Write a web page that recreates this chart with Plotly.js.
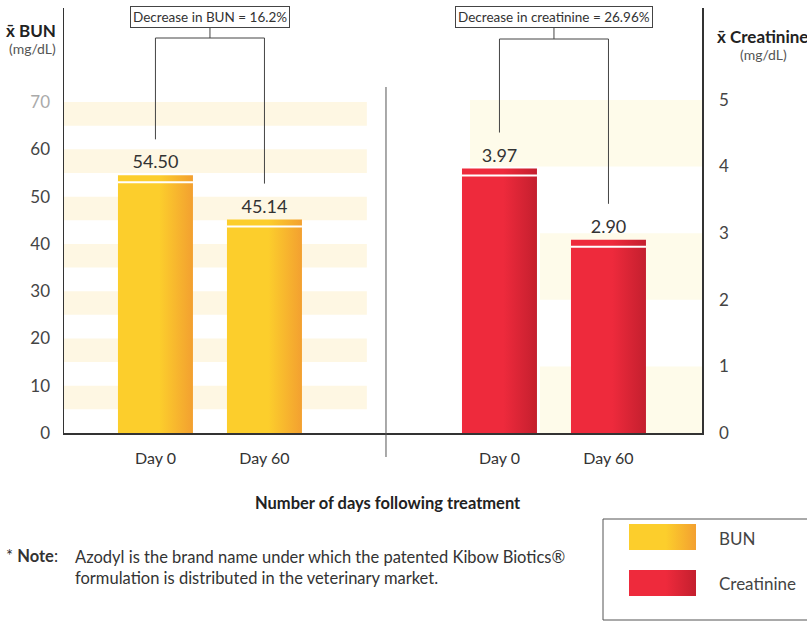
<!DOCTYPE html>
<html>
<head>
<meta charset="utf-8">
<script src="https://cdn.plot.ly/plotly-3.0.1.min.js"></script>
<style>
  html, body { margin: 0; padding: 0; background: #ffffff; }
  #chart { width: 807px; height: 623px; }
</style>
</head>
<body>
<div id="chart"></div>
<script>
// ---------------- data ----------------
const categories = ["Day 0", "Day 60"];
const bunValues = [54.50, 45.14];
const creatinineValues = [3.97, 2.90];
const bunLabels = ["54.50", "45.14"];
const creatinineLabels = ["3.97", "2.90"];
const bunTicks = [0, 10, 20, 30, 40, 50, 60, 70];
const creatinineTicks = [0, 1, 2, 3, 4, 5];
const seriesNames = ["BUN", "Creatinine"];
const bracketTexts = ["Decrease in BUN = 16.2%", "Decrease in creatinine = 26.96%"];
const xAxisTitle = "Number of days following treatment";
const noteLines = ["Azodyl is the brand name under which the patented Kibow Biotics®",
                   "formulation is distributed in the veterinary market."];

// ---------------- styles ----------------
const FONT = "Lato, 'Open Sans', sans-serif";
const bunColor = "#f9bd2b";
const creColor = "#e52535";
const axisColor = "#333333";
const bunRange = [0, 89.9];
const creRange = [0, 6.38];
const plotH = 425; // px
const bunPx = plotH / (bunRange[1] - bunRange[0]);
const crePx = plotH / (creRange[1] - creRange[0]);
const splitX = 0.5047;
const barWidth = 0.688;
const py = p => (433 - p) / plotH; // pixel row -> paper y
const px = p => (p - 64) / 638;    // pixel col -> paper x

const traces = [
  {
    type: "bar", name: seriesNames[0], x: categories, y: bunValues,
    xaxis: "x", yaxis: "y", width: barWidth,
    marker: { color: bunColor, line: { width: 0 } },
    text: bunLabels, textposition: "outside", cliponaxis: false,
    textfont: { family: FONT, size: 18, color: "#333" },
    hoverinfo: "skip", showlegend: false
  },
  {
    type: "bar", name: seriesNames[1], x: categories, y: creatinineValues,
    xaxis: "x2", yaxis: "y2", width: barWidth,
    marker: { color: creColor, line: { width: 0 } },
    text: creatinineLabels, textposition: "outside", cliponaxis: false,
    textfont: { family: FONT, size: 18, color: "#333" },
    hoverinfo: "skip", showlegend: false
  }
];

const shapes = [];
// faint background bands
bunTicks.filter(t => t > 0).forEach(t => {
  shapes.push({ type: "rect", layer: "below", xref: "paper", yref: "y",
    x0: 0, x1: splitX - 0.03, y0: t - 5, y1: t, fillcolor: "#fef7e3", line: { width: 0 } });
});
creatinineTicks.filter(t => t % 2 === 1).forEach(t => {
  shapes.push({ type: "rect", layer: "below", xref: "paper", yref: "y2",
    x0: t === 5 ? px(470) : px(540), x1: 1, y0: t - 1, y1: t, fillcolor: "#fefbea", line: { width: 0 } });
});
// divider
shapes.push({ type: "line", xref: "paper", yref: "paper", x0: splitX, x1: splitX,
  y0: py(457), y1: py(87), line: { color: "#555", width: 1 } });

// white stripe near top of each bar
function stripes(values, xref, yref, pxu) {
  values.forEach((v, i) => {
    shapes.push({ type: "line", layer: "above", xref: xref, yref: yref,
      x0: i - barWidth / 2, x1: i + barWidth / 2, y0: v - 7 / pxu, y1: v - 7 / pxu,
      line: { color: "#ffffff", width: 2 } });
  });
}
stripes(bunValues, "x", "y", bunPx);
stripes(creatinineValues, "x2", "y2", crePx);

// brackets
function bracket(values, xref, yref, pxu, yTop) {
  const off = 36 / pxu;
  shapes.push({ type: "line", xref: xref, yref: "paper", x0: 0, x1: 1, y0: yTop, y1: yTop,
    line: { color: "#444", width: 1 } });
  shapes.push({ type: "line", xref: xref, yref: "paper", x0: 0.5, x1: 0.5, y0: yTop, y1: py(27),
    line: { color: "#444", width: 1 } });
  values.forEach((v, i) => {
    shapes.push({ type: "line", xref: xref, yref: yref, x0: i, x1: i,
      y0: v + off, y1: (plotH * yTop) / pxu,
      line: { color: "#444", width: 1 } });
  });
}
bracket(bunValues, "x", "y", bunPx, py(38));
bracket(creatinineValues, "x2", "y2", crePx, py(39));

// custom legend
shapes.push({ type: "rect", xref: "paper", yref: "paper", x0: px(603), x1: 1.3, y0: py(620), y1: py(519),
  line: { color: "#555", width: 1 }, fillcolor: "rgba(0,0,0,0)" });
const legendSwatchIdx = [shapes.length, shapes.length + 1];
shapes.push({ type: "rect", xref: "paper", yref: "paper", x0: px(629), x1: px(696), y0: py(550), y1: py(524),
  line: { width: 0 }, fillcolor: bunColor });
shapes.push({ type: "rect", xref: "paper", yref: "paper", x0: px(629), x1: px(696), y0: py(596), y1: py(570),
  line: { width: 0 }, fillcolor: creColor });

const ann = (o) => Object.assign({ xref: "paper", yref: "paper", showarrow: false, yanchor: "middle" }, o);
const annotations = [
  // bracket boxes
  ann({ xref: "x", x: 0.5, y: py(16.5), text: bracketTexts[0],
    font: { family: FONT, size: 13.5, color: "#333" }, bordercolor: "#444", borderwidth: 1,
    borderpad: 2, bgcolor: "#fff" }),
  ann({ xref: "x2", x: 0.5, y: py(16.5), text: bracketTexts[1],
    font: { family: FONT, size: 13.5, color: "#333" }, bordercolor: "#444", borderwidth: 1,
    borderpad: 2, bgcolor: "#fff" }),
  // axis titles
  ann({ x: px(4), y: py(31), xanchor: "left", text: "<b>x\u0304 BUN</b>",
    font: { family: FONT, size: 17, color: "#222" } }),
  ann({ x: px(7), y: py(49), xanchor: "left", text: "(mg/dL)",
    font: { family: FONT, size: 14, color: "#555" } }),
  ann({ x: px(715), y: py(36), xanchor: "left", text: "<b>x\u0304 Creatinine</b>",
    font: { family: FONT, size: 17, color: "#222" } }),
  ann({ x: px(738), y: py(54), xanchor: "left", text: "(mg/dL)",
    font: { family: FONT, size: 14, color: "#555" } }),
  // x title
  ann({ x: px(388), y: py(503), text: "<b>" + xAxisTitle + "</b>",
    font: { family: FONT, size: 16.5, color: "#222" } }),
  // legend labels
  ann({ x: px(717), y: py(538), xanchor: "left", text: seriesNames[0],
    font: { family: FONT, size: 17, color: "#444" } }),
  ann({ x: px(717), y: py(583), xanchor: "left", text: seriesNames[1],
    font: { family: FONT, size: 17, color: "#444" } }),
  // note
  ann({ x: px(4), y: py(556), xanchor: "left", text: "* <b>Note</b>:",
    font: { family: FONT, size: 16.5, color: "#333" } }),
  ann({ x: px(73), y: py(545), xanchor: "left", yanchor: "top", align: "left",
    text: noteLines.join("<br>"), font: { family: FONT, size: 16.5, color: "#333" } })
];

const bunTickText = bunTicks.map(t => t === 70 ? '<span style="color:#aaa">' + t + '</span>' : String(t));

const layout = {
  width: 807, height: 623,
  margin: { l: 64, r: 105, t: 8, b: 190, pad: 0 },
  paper_bgcolor: "#ffffff", plot_bgcolor: "rgba(0,0,0,0)",
  font: { family: FONT, color: "#333" },
  showlegend: false,
  xaxis: { type: "category", categoryarray: categories, domain: [0, splitX], range: [-0.839, 2.115],
    anchor: "y", showline: true, linecolor: axisColor, linewidth: 1.5, ticks: "", showgrid: false,
    zeroline: false, tickfont: { family: FONT, size: 16, color: "#333" }, ticklabelstandoff: 10, fixedrange: true },
  xaxis2: { type: "category", categoryarray: categories, domain: [splitX, 1], range: [-1.041, 1.858],
    anchor: "y2", showline: true, linecolor: axisColor, linewidth: 1.5, ticks: "", showgrid: false,
    zeroline: false, tickfont: { family: FONT, size: 16, color: "#333" }, ticklabelstandoff: 10, fixedrange: true },
  yaxis: { range: bunRange, anchor: "x", tickvals: bunTicks, ticktext: bunTickText, showline: true,
    linecolor: axisColor, linewidth: 1.5, ticks: "", showgrid: false, zeroline: false,
    tickfont: { family: FONT, size: 17, color: "#444" }, ticklabelstandoff: 9, fixedrange: true },
  yaxis2: { range: creRange, anchor: "x2", side: "right", tickvals: creatinineTicks, showline: true,
    linecolor: axisColor, linewidth: 1.5, ticks: "", showgrid: false, zeroline: false,
    tickfont: { family: FONT, size: 17, color: "#444" }, ticklabelstandoff: 12, fixedrange: true },
  shapes: shapes,
  annotations: annotations
};

const gd = document.getElementById("chart");
Plotly.newPlot(gd, traces, layout, { staticPlot: true }).then(() => {
  // horizontal gradient fills, like the printed bars
  const svg = gd.querySelector(".main-svg");
  const NS = "http://www.w3.org/2000/svg";
  let defs = svg.querySelector("defs");
  if (!defs) { defs = document.createElementNS(NS, "defs"); svg.insertBefore(defs, svg.firstChild); }
  function grad(id, c0, c1) {
    const g = document.createElementNS(NS, "linearGradient");
    g.setAttribute("id", id); g.setAttribute("x1", "0"); g.setAttribute("x2", "1");
    g.setAttribute("y1", "0"); g.setAttribute("y2", "0");
    [[0, c0], [0.55, c0], [1, c1]].forEach(([o, c]) => {
      const s = document.createElementNS(NS, "stop");
      s.setAttribute("offset", o); s.setAttribute("stop-color", c); g.appendChild(s);
    });
    defs.appendChild(g);
  }
  grad("gBUN", "#fcce2c", "#f3a030");
  grad("gCRE", "#ee2a3c", "#c41f2e");
  const traceGroups = gd.querySelectorAll(".barlayer .trace");
  const ids = ["gBUN", "gCRE"];
  traceGroups.forEach((tg, i) => {
    tg.querySelectorAll(".point path").forEach(p => { p.style.fill = "url(#" + ids[i] + ")"; });
  });
  legendSwatchIdx.forEach((idx, i) => {
    const p = gd.querySelector('.shapelayer path[data-index="' + idx + '"]');
    if (p) p.style.fill = "url(#" + ids[i] + ")";
  });
});
</script>
</body>
</html>
